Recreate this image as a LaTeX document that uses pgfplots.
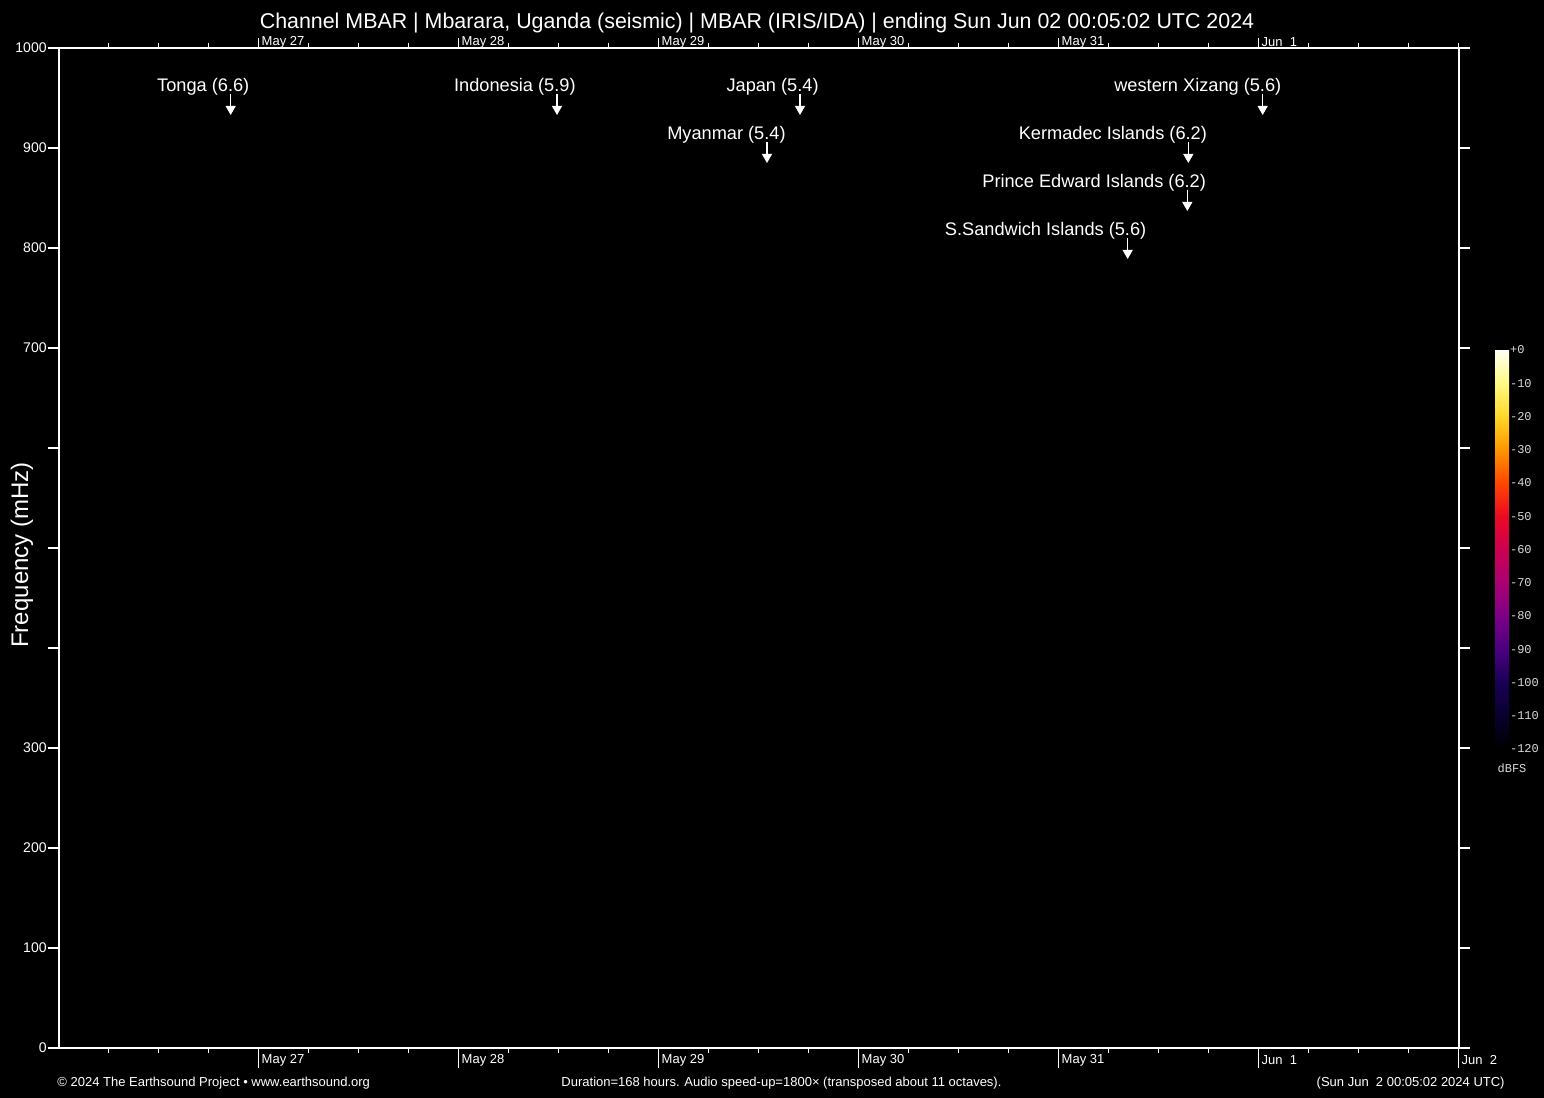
\documentclass[border=0pt]{standalone}
\usepackage{fontspec}
\setmainfont{Liberation Sans}
\newfontfamily\monofont{Liberation Mono}
\usepackage{pgfplots}
\pgfplotsset{compat=1.18}
\usepackage{pgfplotstable}
\usetikzlibrary{arrows.meta}

% events: time in hours since start (May 26 00:05:02 UTC), top of arrow in mHz
\pgfplotstableread[col sep=comma]{
t,f,label
20.60,954,Tonga (6.6)
59.76,954,Indonesia (5.9)
88.92,954,Japan (5.4)
84.96,906,Myanmar (5.4)
144.44,954,western Xizang (5.6)
135.52,906,Kermadec Islands (6.2)
135.40,858,Prince Edward Islands (6.2)
128.24,810,S.Sandwich Islands (5.6)
}\events

\pgfplotsset{
  base/.style={
    at={(0,0)}, anchor=south west,
    scale only axis, width=700pt, height=500pt,
    xmin=0, xmax=168, ymin=0, ymax=1000,
    axis line style={white, line width=0.6pt},
    tick style={white, line width=0.6pt},
    tick align=outside, clip=false,
  },
}
\newcommand\tickfont{\fontsize{6.5}{7}\selectfont}
\newcommand\cbfont{\monofont\fontsize{6}{7}\selectfont}

\begin{document}
\begin{tikzpicture}
\fill[black] (-29.5pt,-25pt) rectangle (742.5pt,524pt);

% main axis: frequency ticks, events, colour bar
\begin{axis}[base,
  xtick=\empty,
  ytick={0,100,...,1000},
  yticklabels={0,100,200,300,,,,700,800,900,1000},
  ytick pos=both, yticklabel pos=left,
  major tick length=5.5pt,
  yticklabel style={font=\fontsize{7}{8}\selectfont, text=white, inner sep=0.5pt},
  ylabel={Frequency (mHz)},
  ylabel style={at={(axis description cs:-0.0264,0.493)}, anchor=center,
    font=\fontsize{12}{14}\selectfont, text=white},
  point meta min=-120, point meta max=0,
  colormap={dbfs}{rgb255=(0,0,0) rgb255=(8,0,45) rgb255=(25,0,85)
    rgb255=(75,0,130) rgb255=(125,0,135) rgb255=(170,0,115) rgb255=(205,0,80)
    rgb255=(235,10,35) rgb255=(255,70,0) rgb255=(255,150,0) rgb255=(255,215,40)
    rgb255=(255,250,130) rgb255=(255,255,245)},
  colorbar right,
  colorbar style={
    at={(parent axis.north east)}, anchor=north west,
    xshift=9.5pt, yshift=-151pt,
    scale only axis, width=7pt, height=199.5pt,
    ytick={-120,-110,...,0},
    yticklabels={-120,-110,-100,-90,-80,-70,-60,-50,-40,-30,-20,-10,+0},
    yticklabel style={font=\cbfont, text=white!85!black, inner sep=0.3pt},
    major tick length=0pt,
    axis line style={draw=none}, tick style={draw=none},
  },
]
\addplot[white, line width=0.6pt,
  quiver={u=0, v=-21, every arrow/.append style={-{Triangle[width=5pt,length=4.5pt]}}}]
  table[x=t, y=f] {\events};
\addplot[draw=none, mark=none, nodes near coords, point meta=explicit symbolic,
  every node near coord/.style={anchor=base east, xshift=9.5pt, yshift=1pt,
    text=white, inner sep=0pt, font=\fontsize{9.1}{10}\selectfont}]
  table[x=t, y=f, meta=label] {\events};
\end{axis}

% bottom day ticks
\begin{axis}[base,
  ytick=\empty,
  xtick={23.916,47.916,71.916,95.916,119.916,143.916,167.916},
  xticklabels={May 27,May 28,May 29,May 30,May 31,Jun\ \ 1,Jun\ \ 2},
  minor xtick={5.916,11.916,...,167.916},
  xtick pos=left, xticklabel pos=left,
  major tick length=10pt, minor tick length=2.5pt,
  xticklabel style={anchor=west, font=\tickfont, text=white, inner sep=0pt,
    xshift=1.5pt, yshift=4pt},
]
\end{axis}

% top day ticks
\begin{axis}[base,
  ytick=\empty,
  xtick={23.916,47.916,71.916,95.916,119.916,143.916},
  xticklabels={May 27,May 28,May 29,May 30,May 31,Jun\ \ 1},
  minor xtick={5.916,11.916,...,167.916},
  xtick pos=right, xticklabel pos=right,
  major tick length=5pt, minor tick length=2.5pt,
  xticklabel style={anchor=west, font=\tickfont, text=white, inner sep=0pt,
    xshift=1.5pt, yshift=-2pt},
]
\end{axis}

\node[text=white, font=\fontsize{10.7}{12}\selectfont] at (349pt,512.5pt)
  {Channel MBAR | Mbarara, Uganda (seismic) | MBAR (IRIS/IDA) | ending Sun Jun 02 00:05:02 UTC 2024};
\node[text=white, font=\tickfont, anchor=west, inner sep=0pt] at (-1pt,-17.5pt)
  {\textcopyright\ 2024 The Earthsound Project \textbullet\ www.earthsound.org};
\node[text=white, font=\tickfont, inner sep=0pt] at (361.25pt,-17.5pt)
  {Duration=168 hours. Audio speed-up=1800\texttimes\ (transposed about 11 octaves).};
\node[text=white, font=\tickfont, anchor=east, inner sep=0pt] at (723pt,-17.5pt)
  {(Sun Jun\ \ 2 00:05:02 2024 UTC)};
\node[text=white!85!black, font=\cbfont] at (726.5pt,140pt) {dBFS};

\pgfresetboundingbox
\useasboundingbox (-29.5pt,-25pt) rectangle (742.5pt,524pt);
\end{tikzpicture}
\end{document}
